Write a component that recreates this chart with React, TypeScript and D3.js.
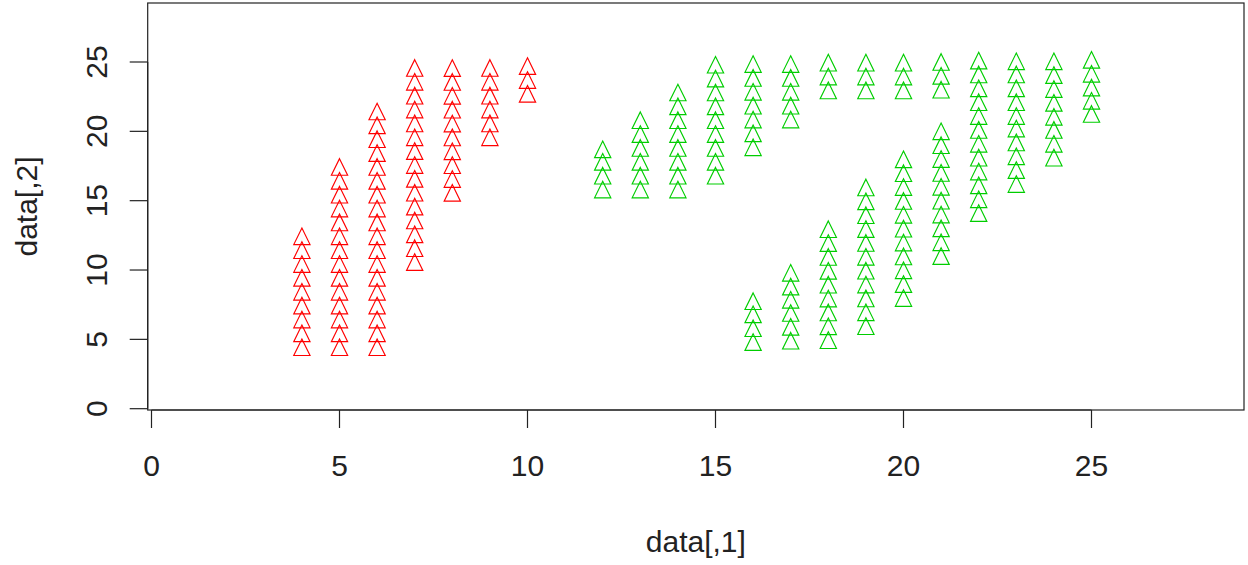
import React from "react";
import * as d3 from "d3";

// x positions of the point columns and their y values
const redX = [4, 5, 6, 7, 8, 9, 10];
const redY = [
  [4.23, 5.23, 6.23, 7.23, 8.23, 9.23, 10.23, 11.23, 12.23],
  [4.23, 5.23, 6.23, 7.23, 8.23, 9.23, 10.23, 11.23, 12.23, 13.23, 14.23, 15.23, 16.23, 17.23],
  [4.23, 5.23, 6.23, 7.23, 8.23, 9.23, 10.23, 11.23, 12.23, 13.23, 14.23, 15.23, 16.23, 17.23, 18.23, 19.23, 20.23, 21.23],
  [10.37, 11.37, 12.37, 13.37, 14.37, 15.37, 16.37, 17.37, 18.37, 19.37, 20.37, 21.37, 22.37, 23.37, 24.37],
  [15.36, 16.36, 17.36, 18.36, 19.36, 20.36, 21.36, 22.36, 23.36, 24.36],
  [19.37, 20.37, 21.37, 22.37, 23.37, 24.37],
  [22.5, 23.5, 24.5],
];

const greenX = [12, 13, 14, 15, 16, 17, 18, 19, 20, 21, 22, 23, 24, 25];
const greenY = [
  [15.6, 16.6, 17.6, 18.5],
  [15.6, 16.6, 17.6, 18.6, 19.6, 20.6],
  [15.6, 16.6, 17.6, 18.6, 19.6, 20.6, 21.6, 22.6],
  [16.6, 17.6, 18.6, 19.6, 20.6, 21.6, 22.6, 23.6, 24.6],
  [4.6, 5.6, 6.6, 7.55, 18.65, 19.65, 20.65, 21.65, 22.65, 23.65, 24.65],
  [4.7, 5.7, 6.7, 7.65, 8.6, 9.6, 20.65, 21.65, 22.65, 23.65, 24.65],
  [4.74, 5.74, 6.74, 7.74, 8.74, 9.74, 10.74, 11.74, 12.74, 22.75, 23.75, 24.75],
  [5.75, 6.75, 7.75, 8.75, 9.75, 10.75, 11.75, 12.75, 13.75, 14.75, 15.75, 22.75, 23.75, 24.75],
  [7.78, 8.78, 9.78, 10.78, 11.78, 12.78, 13.78, 14.78, 15.78, 16.78, 17.78, 22.75, 23.75, 24.75],
  [10.8, 11.8, 12.8, 13.8, 14.8, 15.8, 16.8, 17.8, 18.8, 19.8, 22.8, 23.8, 24.8],
  [13.9, 14.9, 15.9, 16.9, 17.9, 18.9, 19.9, 20.9, 21.9, 22.9, 23.9, 24.9],
  [16.0, 17.0, 18.0, 19.0, 20.0, 20.9, 21.9, 22.9, 23.9, 24.85],
  [17.9, 18.9, 19.9, 20.85, 21.85, 22.85, 23.85, 24.85],
  [21.05, 22.0, 22.95, 23.95, 24.95],
];

const xTicks = [0, 5, 10, 15, 20, 25];
const yTicks = [0, 5, 10, 15, 20, 25];
const xTitle = "data[,1]";
const yTitle = "data[,2]";

const W = 1248;
const H = 565;
const box = { left: 147.7, right: 1244, top: 3, bottom: 410 };
const FONT = "Arial, 'Liberation Sans', sans-serif";
const TXT = "#222";

function triPath(cx: number, cy: number) {
  const up = 11.1, down = 5.5, half = 8.15;
  return `M${cx},${cy - up}L${cx + half},${cy + down}L${cx - half},${cy + down}Z`;
}

export default function App() {
  const x = d3.scaleLinear().domain([0, 25]).range([151.5, 1091.5]);
  const y = d3.scaleLinear().domain([0, 25]).range([408.7, 62]);

  const pts = (xs: number[], ys: number[][]) =>
    xs.flatMap((xv, i) => ys[i].map((yv) => [xv, yv] as [number, number]));
  const red = pts(redX, redY);
  const green = pts(greenX, greenY);

  return (
    <svg
      width={W}
      height={H}
      style={{ position: "absolute", left: 0, top: 0, background: "#fff" }}
    >
      <rect
        x={box.left}
        y={box.top}
        width={box.right - box.left}
        height={box.bottom - box.top}
        fill="none"
        stroke="#222"
        strokeWidth={1.2}
      />
      {/* x axis */}
      <line x1={x(0)} x2={x(25)} y1={box.bottom} y2={box.bottom} stroke="#222" strokeWidth={1.2} />
      {xTicks.map((t) => (
        <g key={"xt" + t}>
          <line x1={x(t)} x2={x(t)} y1={box.bottom} y2={box.bottom + 18} stroke="#222" strokeWidth={1.2} />
          <text
            x={x(t)}
            y={476}
            textAnchor="middle"
            fontFamily={FONT}
            fontSize={30}
            fill={TXT}
          >
            {t}
          </text>
        </g>
      ))}
      {/* y axis */}
      <line x1={box.left} x2={box.left} y1={y(0)} y2={y(25)} stroke="#222" strokeWidth={1.2} />
      {yTicks.map((t) => (
        <g key={"yt" + t}>
          <line x1={box.left - 18} x2={box.left} y1={y(t)} y2={y(t)} stroke="#222" strokeWidth={1.2} />
          <text
            transform={`translate(106.5,${y(t)}) rotate(-90)`}
            textAnchor="middle"
            fontFamily={FONT}
            fontSize={30}
            fill={TXT}
          >
            {t}
          </text>
        </g>
      ))}
      <text
        x={(box.left + box.right) / 2}
        y={552}
        textAnchor="middle"
        fontFamily={FONT}
        fontSize={30}
        fill={TXT}
      >
        {xTitle}
      </text>
      <text
        transform={`translate(37,${(box.top + box.bottom) / 2}) rotate(-90)`}
        textAnchor="middle"
        fontFamily={FONT}
        fontSize={30}
        fill={TXT}
      >
        {yTitle}
      </text>
      <g fill="none" stroke="#FF0000" strokeWidth={1.15}>
        {red.map(([a, b], i) => (
          <path key={"r" + i} d={triPath(x(a), y(b))} />
        ))}
      </g>
      <g fill="none" stroke="#00CD00" strokeWidth={1.15}>
        {green.map(([a, b], i) => (
          <path key={"g" + i} d={triPath(x(a), y(b))} />
        ))}
      </g>
    </svg>
  );
}
